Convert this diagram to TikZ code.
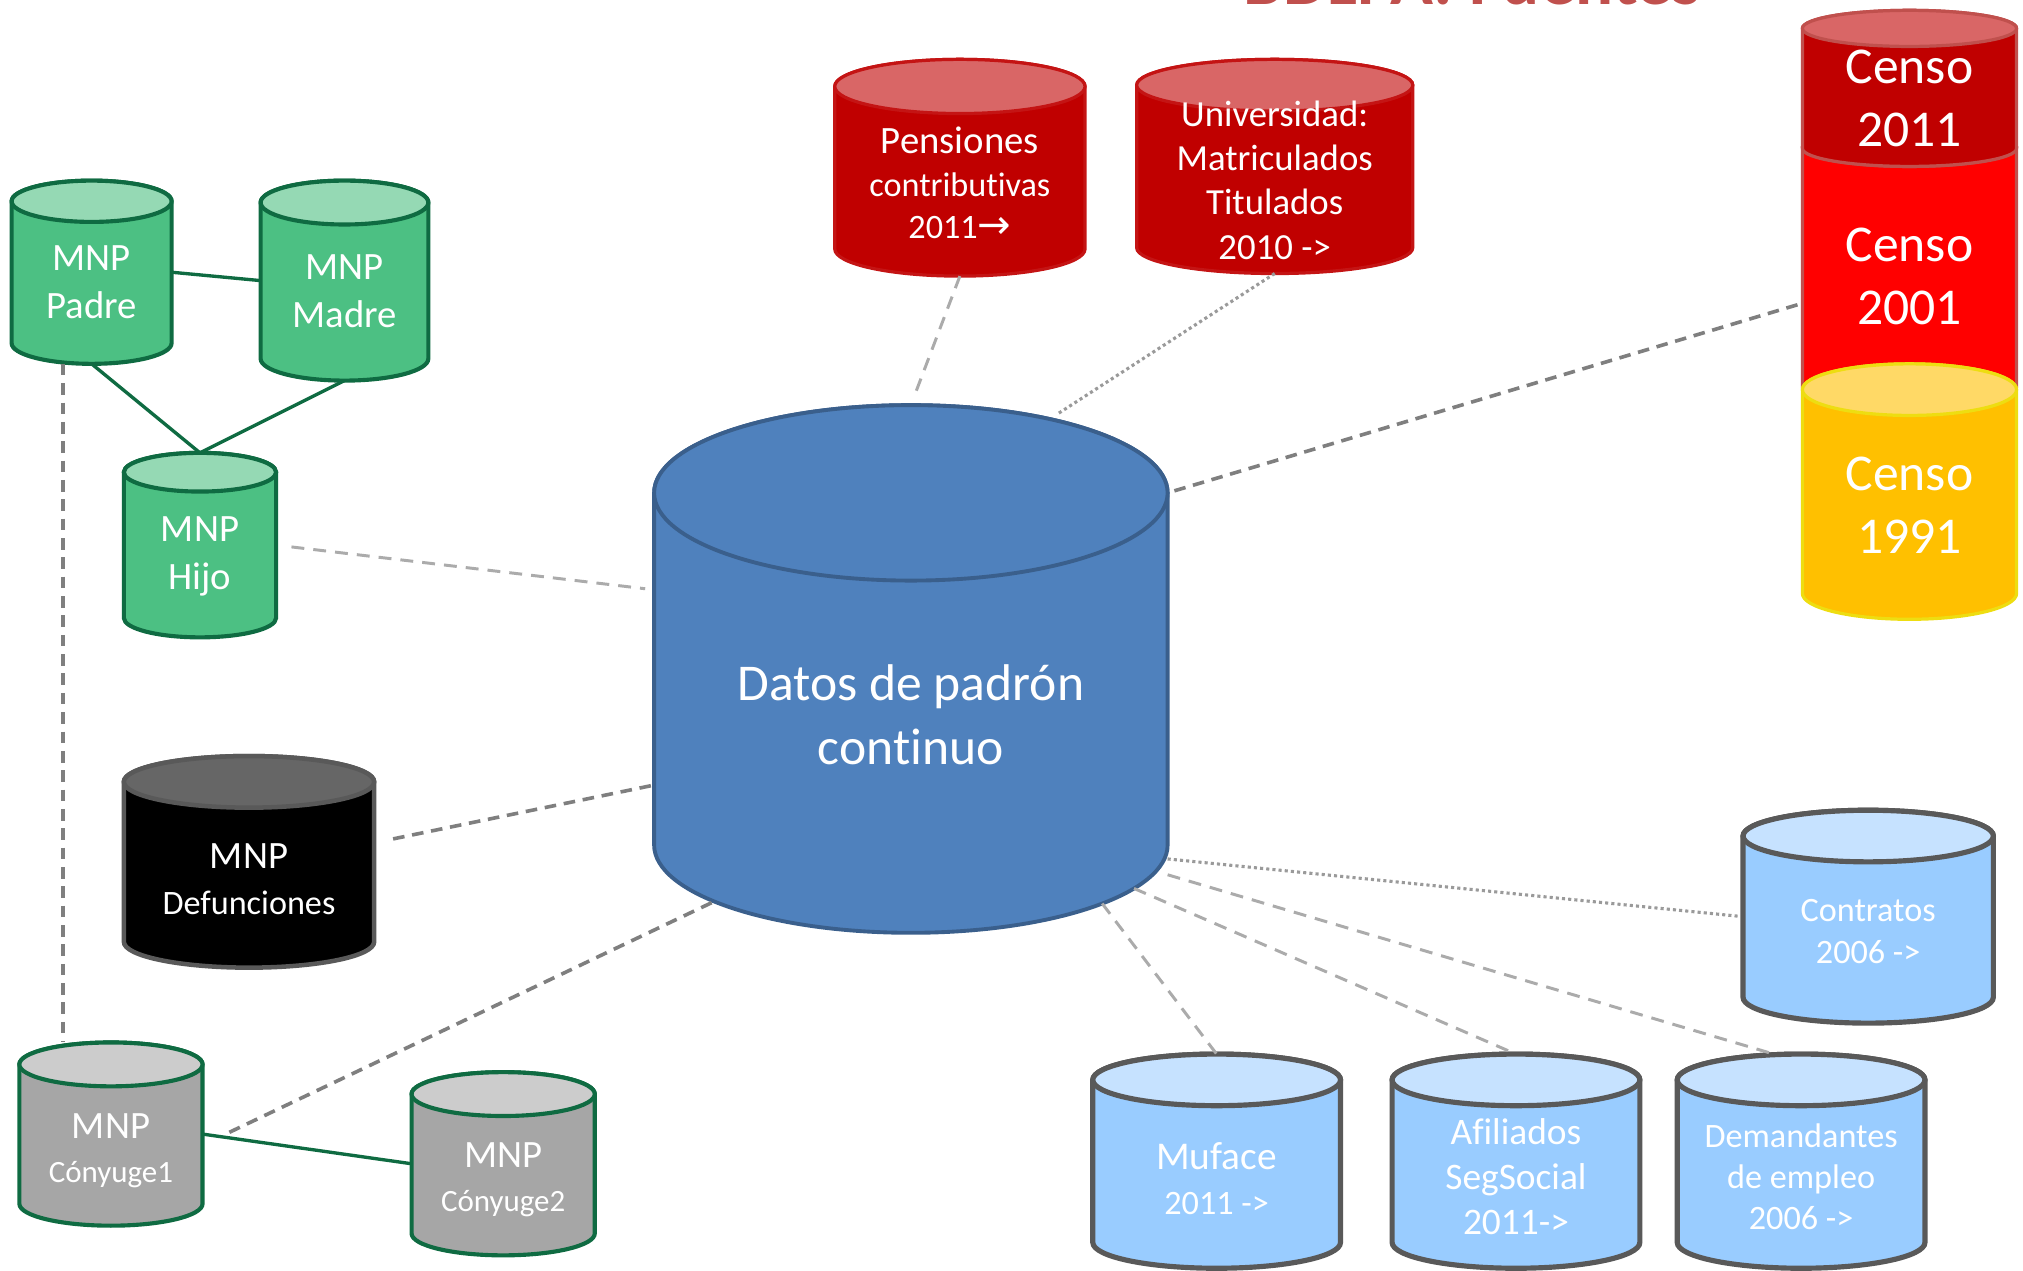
\documentclass[tikz,border=0pt]{standalone}
\usepackage{fontspec}
\setmainfont[Ligatures={NoCommon}]{Carlito}
\newfontfamily\arrowfont{DejaVu Sans}
\usetikzlibrary{shapes.geometric,calc}

\definecolor{grnbody}{HTML}{4CC083}
\definecolor{grntop}{HTML}{95D9B4}
\definecolor{grnedge}{HTML}{0F6B42}
\definecolor{cenbody}{HTML}{4F81BD}
\definecolor{cenedge}{HTML}{3A5F8C}
\definecolor{redbody}{HTML}{C00000}
\definecolor{redtop}{HTML}{D96666}
\definecolor{rededge}{HTML}{C41414}
\definecolor{censoedge}{HTML}{C0504D}
\definecolor{brightred}{HTML}{FF0000}
\definecolor{yelbody}{HTML}{FFC000}
\definecolor{yeltop}{HTML}{FFD966}
\definecolor{yeledge}{HTML}{EEDD11}
\definecolor{bluebody}{HTML}{99CCFF}
\definecolor{bluetop}{HTML}{C6E2FF}
\definecolor{grayedge}{HTML}{595959}
\definecolor{conbody}{HTML}{A6A6A6}
\definecolor{contop}{HTML}{CCCCCC}
\definecolor{deftop}{HTML}{666666}
\definecolor{defedge}{HTML}{595959}
\definecolor{darkdashc}{HTML}{7F7F7F}
\definecolor{lightdashc}{HTML}{ABABAB}
\definecolor{dotc}{HTML}{9A9A9A}
\definecolor{titlered}{HTML}{C0504D}

% #1 name, #2 cx, #3 y of top ellipse centre, #4 y of bottom ellipse centre,
% #5 rx, #6 ry, #7 body style, #8 top fill
\newcommand{\dbcyl}[8]{%
  \path[#7] (#2-#5,#3) -- (#2-#5,#4)
     arc[start angle=180,end angle=360,x radius=#5pt,y radius=#6pt]
     -- (#2+#5,#3)
     arc[start angle=0,end angle=180,x radius=#5pt,y radius=#6pt] -- cycle;
  \path[#7,fill=#8] (#2,#3) ellipse[x radius=#5pt,y radius=#6pt];
  \node[inner sep=0pt,outer sep=0pt,minimum width={2*#5pt},
        minimum height={(#4-#3+2*#6)*1pt}] (#1) at (#2,{(#3+#4)/2}) {};
  \node[ellipse,inner sep=0pt,outer sep=0pt,minimum width={2*#5pt},
        minimum height={2*#6pt}] (#1-top) at (#2,#3) {};
  \node[ellipse,inner sep=0pt,outer sep=0pt,minimum width={2*#5pt},
        minimum height={2*#6pt}] (#1-bot) at (#2,#4) {};
}

\begin{document}
\begin{tikzpicture}[x=1pt,y=-1pt,
  greencyl/.style={fill=grnbody,draw=grnedge,line width=3.2pt},
  defcyl/.style={fill=black,draw=defedge,line width=3.5pt},
  concyl/.style={fill=conbody,draw=grnedge,line width=3.2pt},
  cencyl/.style={fill=cenbody,draw=cenedge,line width=3pt},
  redcyl/.style={fill=redbody,draw=rededge,line width=2.5pt},
  c11cyl/.style={fill=redbody,draw=censoedge,line width=2.5pt},
  c01cyl/.style={fill=brightred,draw=censoedge,line width=2.5pt},
  c91cyl/.style={fill=yelbody,draw=yeledge,line width=2.5pt},
  bluecyl/.style={fill=bluebody,draw=grayedge,line width=4pt},
  solidgreen/.style={draw=grnedge,line width=2.6pt},
  darkdash/.style={draw=darkdashc,line width=2.8pt,dash pattern=on 9pt off 6pt},
  lightdash/.style={draw=lightdashc,line width=2.3pt,dash pattern=on 10pt off 7pt},
  dotlink/.style={draw=dotc,line width=2.4pt,dash pattern=on 2.4pt off 2.4pt},
  txt/.style={text=white,align=center,inner sep=0pt},
  titletxt/.style={text=titlered,font=\fontsize{55}{60}\selectfont\bfseries,inner sep=0pt}
]
\useasboundingbox (0,0) rectangle (1568,985);
\clip (0,0) rectangle (1568,985);

% title (cut by the top edge, as in the original)
\node[titletxt,anchor=base] (title) at (1141,3.5) {BDLPA: Fuentes};

% green family
\dbcyl{pad}{71}{156}{266}{62}{16}{greencyl}{grntop}
\dbcyl{mad}{267}{157}{278}{65}{17}{greencyl}{grntop}
\dbcyl{hijo}{155}{366}{479}{59}{15}{greencyl}{grntop}
% deaths
\dbcyl{def}{193}{606}{730}{97}{20}{defcyl}{deftop}
% spouses
\dbcyl{con1}{86}{825}{933}{71}{17}{concyl}{contop}
\dbcyl{con2}{390}{848}{956}{71}{17}{concyl}{contop}
% central
\dbcyl{cen}{706}{382}{655}{199}{68}{cencyl}{cenbody}
% red sources
\dbcyl{pen}{744}{67}{193}{97}{21}{redcyl}{redtop}
\dbcyl{uni}{988}{66}{192}{107}{20}{redcyl}{redtop}
% census stack
\dbcyl{c01}{1480}{114}{300}{83}{15}{c01cyl}{brightred}
\dbcyl{c11}{1480}{22}{115}{83}{14}{c11cyl}{redtop}
\dbcyl{c91}{1480}{302}{460}{83}{20}{c91cyl}{yeltop}
% blue sources
\dbcyl{contr}{1448}{648}{773}{97}{20}{bluecyl}{bluetop}
\dbcyl{muf}{943}{837}{963}{96}{20}{bluecyl}{bluetop}
\dbcyl{afi}{1175}{837}{963}{96}{20}{bluecyl}{bluetop}
\dbcyl{dem}{1396}{837}{963}{96}{20}{bluecyl}{bluetop}

% texts
\node[txt,font=\fontsize{30}{37}\selectfont] (pad-t) at (71,219) {MNP\\Padre};
\node[txt,font=\fontsize{30}{37}\selectfont] (mad-t) at (267,225.5) {MNP\\Madre};
\node[txt,font=\fontsize{30}{37}\selectfont] (hijo-t) at (155,431) {MNP\\Hijo};
\node[txt,font=\fontsize{26.5}{35}\selectfont] (def-t) at (193,681.5) {{\fontsize{30}{35}\selectfont MNP}\\Defunciones};
\node[txt,font=\fontsize{24}{34}\selectfont] (con1-t) at (86,892) {{\fontsize{30}{34}\selectfont MNP}\\Cónyuge1};
\node[txt,font=\fontsize{24}{34}\selectfont] (con2-t) at (390,914.5) {{\fontsize{30}{34}\selectfont MNP}\\Cónyuge2};
\node[txt,font=\fontsize{40}{49}\selectfont] (cen-t) at (706,554) {Datos de padrón\\continuo};
\node[txt,font=\fontsize{26.5}{33}\selectfont] (pen-t) at (744,142) {{\fontsize{30}{33}\selectfont Pensiones}\\contributivas\\2011{\arrowfont\fontsize{31}{33}\selectfont →}};
\node[txt,font=\fontsize{28.5}{34.3}\selectfont] (uni-t) at (988,139.5) {Universidad:\\Matriculados\\Titulados\\2010 ->};
\node[txt,font=\fontsize{40}{49}\selectfont] (c11-t) at (1480,76.5) {Censo\\2011};
\node[txt,font=\fontsize{40}{49}\selectfont] (c01-t) at (1480,214.5) {Censo\\2001};
\node[txt,font=\fontsize{40}{49}\selectfont] (c91-t) at (1480,391.5) {Censo\\1991};
\node[txt,font=\fontsize{26.5}{32}\selectfont] (contr-t) at (1448,722) {Contratos\\2006 ->};
\node[txt,font=\fontsize{26.5}{35}\selectfont] (muf-t) at (943,913.5) {{\fontsize{30.5}{35}\selectfont Muface}\\2011 ->};
\node[txt,font=\fontsize{29}{35}\selectfont] (afi-t) at (1175,912) {Afiliados\\SegSocial\\2011->};
\node[txt,font=\fontsize{26.5}{32}\selectfont] (dem-t) at (1396,912) {Demandantes\\de empleo\\2006 ->};

% connectors
\draw[solidgreen] (pad.east) -- (mad.west);
\draw[solidgreen] (pad.south) -- (hijo.north);
\draw[solidgreen] (mad.south) -- (hijo.north);
\draw[solidgreen] (con1.east) -- (con2.west);
\coordinate (pv) at ($(pad.south west)!0.32!(pad.south east)$);
\draw[darkdash] (pv) -- (pv |- con1.north);

\draw[lightdash,shorten >=7pt] (pen.south) -- (cen-top.north);
\draw[dotlink,shorten >=8pt] (uni.south) -- (cen-top.28);
\draw[darkdash,shorten <=4pt] ($(c01.north west)!0.63!(c01.south west)$) -- (cen-top.east);
\draw[lightdash,shorten <=12pt,shorten >=7pt] (hijo.east) -- ($(cen.north west)!0.35!(cen.south west)$);
\draw[darkdash,shorten <=15pt,shorten >=2pt] ($(def.north east)!0.41!(def.south east)$) -- ($(cen.north west)!0.72!(cen.south west)$);
\draw[darkdash,shorten <=23pt] ($(con1.north east)!0.56!(con1.south east)$) -- (cen-bot.196);
\draw[dotlink,shorten >=4pt] ($(cen.north east)!0.86!(cen.south east)$) -- (contr.west);
\draw[lightdash] (cen-bot.-17) -- (muf.north);
\draw[lightdash] (cen-bot.-11) -- (afi.north);
\draw[lightdash] ($(cen.north east)!0.89!(cen.south east)$) -- ($(dem.north west)!0.39!(dem.north east)$);
\end{tikzpicture}
\end{document}
